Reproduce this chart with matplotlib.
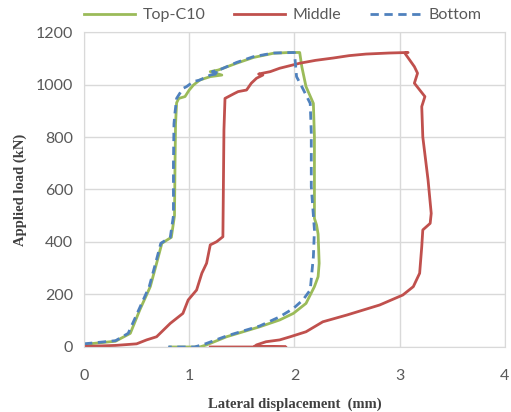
import matplotlib.pyplot as plt

# ------------------------------------------------------------
# Curvas carga - desplazamiento lateral
# ------------------------------------------------------------

top_x = [0, 0.1, 0.3, 0.44, 0.53, 0.63, 0.69, 0.74, 0.83, 0.86, 0.865, 0.87, 0.88,
         0.90, 0.96, 1.0, 1.04, 1.10, 1.20, 1.31, 1.20, 1.275, 1.45, 1.61, 1.80,
         1.95, 2.05, 2.07, 2.11, 2.18, 2.19, 2.19, 2.21, 2.225, 2.235, 2.225, 2.19,
         2.11, 1.99, 1.86, 1.67, 1.355, 1.165, 1.10, 0.82]
top_y = [10, 14, 22, 52, 141, 230, 319, 395, 418, 500, 700, 850, 930,
         947, 954, 979, 998, 1017, 1030, 1036, 1049, 1055, 1081, 1103, 1119,
         1122, 1122, 1068, 992, 928, 800, 490, 465, 430, 319, 268, 230,
         166, 128, 103, 77, 39, 8, 0, 0]

mid_x = [0, 0.3, 0.5, 0.595, 0.69, 0.82, 0.94, 0.99, 1.07, 1.12, 1.165, 1.20,
         1.26, 1.32, 1.33, 1.34, 1.43, 1.465, 1.545, 1.59, 1.64, 1.70, 1.66,
         1.77, 1.86, 2.05, 2.20, 2.37, 2.52, 2.68, 2.9, 3.08, 3.05, 3.14, 3.17,
         3.14, 3.24, 3.21, 3.22, 3.27, 3.30, 3.29, 3.22, 3.21, 3.19, 3.13, 3.03,
         2.81, 2.50, 2.27, 2.11, 1.96, 1.86, 1.73, 1.64, 1.62, 1.92, 1.20]
mid_y = [2, 6, 12, 27, 39, 90, 128, 179, 217, 281, 319, 389,
         401, 420, 827, 947, 966, 973, 979, 1005, 1024, 1036, 1040,
         1049, 1062, 1081, 1092, 1101, 1110, 1116, 1120, 1122, 1119, 1068, 1043,
         1005, 954, 916, 800, 636, 509, 471, 446, 382, 281, 230, 198,
         160, 122, 96, 58, 39, 27, 20, 8, 2, 0, 0]

bot_x = [0, 0.1, 0.3, 0.42, 0.52, 0.62, 0.68, 0.73, 0.82, 0.85, 0.85, 0.855,
         0.864, 0.88, 0.94, 0.975, 1.04, 1.10, 1.20, 1.29, 1.22, 1.30, 1.45,
         1.61, 1.80, 2.0, 2.0, 2.02, 2.07, 2.15, 2.16, 2.16, 2.19, 2.18, 2.15,
         2.08, 1.99, 1.86, 1.67, 1.355, 1.14, 1.05, 0.80]
bot_y = [12, 16, 24, 52, 141, 230, 319, 395, 418, 500, 700, 850,
         890, 947, 985, 992, 1011, 1017, 1036, 1043, 1049, 1058, 1084,
         1106, 1120, 1122, 1122, 1030, 992, 928, 815, 611, 446, 344, 217,
         179, 147, 115, 80, 42, 10, 0, 0]

# ------------------------------------------------------------
# Gráfico
# ------------------------------------------------------------

plt.rcParams['font.family'] = ['Lato', 'DejaVu Sans']

fig = plt.figure(figsize=(5.11, 4.12), dpi=100)
ax = fig.add_axes([0.1644, 0.1578, 0.8236, 0.7645])

ax.plot(top_x, top_y, color='#9BBB59', lw=2, label='Top-C10')
ax.plot(mid_x, mid_y, color='#C0504D', lw=2, label='Middle')
ax.plot(bot_x, bot_y, color='#4F81BD', lw=2, ls=(0, (3, 2)), label='Bottom')

ax.set_xlim(0, 4)
ax.set_ylim(0, 1200)
ax.set_xticks([0, 1, 2, 3, 4])
ax.set_yticks(range(0, 1201, 200))
ax.grid(True, color='#D9D9D9', lw=1)
ax.set_axisbelow(True)
for s in ax.spines.values():
    s.set_color('#D9D9D9')
ax.tick_params(length=0, labelsize=11.5, colors='#595959')
ax.tick_params(axis='x', pad=16)
ax.tick_params(axis='y', pad=8)

ax.set_xlabel('Lateral displacement  (mm)', family='Liberation Serif',
              fontweight='bold', fontsize=10.5, color='#404040', labelpad=10)
ax.set_ylabel('Applied load (kN)', family='Liberation Serif',
              fontweight='bold', fontsize=10.5, color='#404040', labelpad=6)

leg = fig.legend(loc='center', bbox_to_anchor=(0.553, 0.963), ncol=3,
                 frameon=False, fontsize=11.5, handlelength=3.2,
                 columnspacing=1.8, handletextpad=0.45)
for t in leg.get_texts():
    t.set_color('#595959')

fig.savefig('out.png', dpi=100)
